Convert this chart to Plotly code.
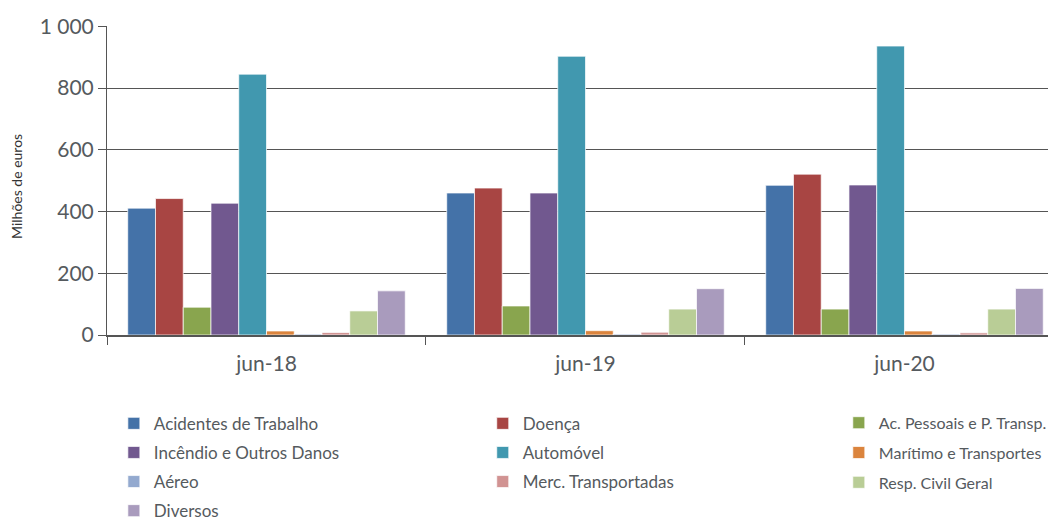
import plotly.graph_objects as go

periods = ["jun-18", "jun-19", "jun-20"]
series_names = [
    "Acidentes de Trabalho", "Doença", "Ac. Pessoais e P. Transp.",
    "Incêndio e Outros Danos", "Automóvel", "Marítimo e Transportes",
    "Aéreo", "Merc. Transportadas", "Resp. Civil Geral", "Diversos",
]
acidentes = [411, 460, 485]
doenca = [442, 476, 521]
ac_pessoais = [90, 94, 84]
incendio = [427, 460, 486]
automovel = [845, 903, 936]
maritimo = [13, 14, 13]
aereo = [3, 3, 3]
merc = [8, 9, 7]
resp_civil = [78, 84, 84]
diversos = [143, 150, 151]
values = [acidentes, doenca, ac_pessoais, incendio, automovel, maritimo,
          aereo, merc, resp_civil, diversos]
colors = ["#4472A8", "#A84543", "#89A54E", "#71588F", "#4198AF", "#DB843D",
          "#93A9CF", "#D19392", "#B9CD96", "#A99BBD"]

y_ticks = [0, 200, 400, 600, 800, 1000]
y_tick_text = ["0", "200", "400", "600", "800", "1 000"]

legend_ids = ["legend", "legend2", "legend3"]

fig = go.Figure()
for i, (name, vals, col) in enumerate(zip(series_names, values, colors)):
    fig.add_trace(go.Bar(
        x=periods, y=vals, name=name,
        legend=legend_ids[i % 3], legendgroup=name,
        marker=dict(color=col, line=dict(color="rgba(255,255,255,0.7)", width=1)),
    ))

legend_common = dict(
    orientation="v", xref="container", yref="container",
    yanchor="top", xanchor="left", y=0.220,
    font=dict(size=17, color="#555a5e", family="Lato, sans-serif"),
    traceorder="grouped",
    tracegroupgap=4, itemclick=False, bgcolor="rgba(0,0,0,0)",
)

fig.update_layout(
    width=1048, height=510,
    margin=dict(l=99, r=0, t=18, b=183, autoexpand=False),
    paper_bgcolor="white", plot_bgcolor="white",
    barmode="group", bargap=0.13, bargroupgap=0,
    font=dict(family="Lato, sans-serif", color="#555a5e"),
    xaxis=dict(
        range=[-0.5, 2.475], tickson="boundaries", ticks="outside", ticklen=8,
        tickcolor="#555", tickwidth=1,
        showline=True, linecolor="#555", linewidth=2,
        tickfont=dict(size=21, color="#555a5e"), ticklabelstandoff=9,
        showgrid=False,
    ),
    yaxis=dict(
        range=[0, 1001], tickvals=y_ticks, ticktext=y_tick_text,
        ticks="outside", ticklen=8, tickcolor="#555",
        showline=True, linecolor="#555", linewidth=1,
        showgrid=True, gridcolor="#555", gridwidth=1,
        tickfont=dict(size=21, color="#555a5e"), zeroline=False,
    ),
    legend=dict(legend_common, x=0.101),
    legend2=dict(legend_common, x=0.453),
    legend3=dict(legend_common, x=0.996, xanchor="right", tracegroupgap=6,
                 font=dict(size=16, color="#555a5e", family="Lato, sans-serif")),
    annotations=[dict(
        text="Milhões de euros", xref="paper", yref="paper",
        x=-90 / 949, y=0.479, xanchor="center", yanchor="middle",
        textangle=-90, showarrow=False, font=dict(size=14, color="#333"),
    )],
)

fig.write_html("out.html")
